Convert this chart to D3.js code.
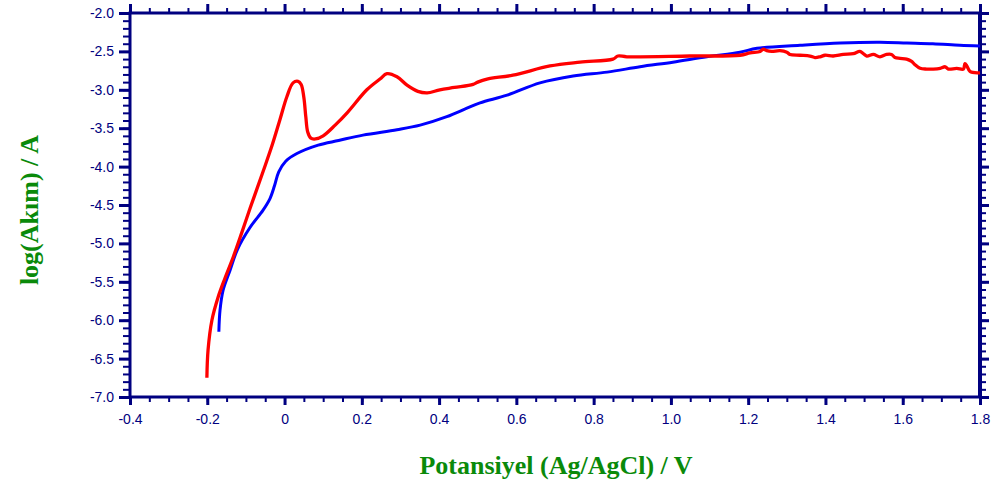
<!DOCTYPE html>
<html><head><meta charset="utf-8">
<script src="https://cdn.jsdelivr.net/npm/d3@7"></script>
<style>
html,body{margin:0;padding:0;background:#fff;}
svg{display:block;}
</style></head>
<body>
<svg id="chart" width="1003" height="486"></svg>
<script>
// ---- data ----
const redX = [-0.201,-0.198,-0.188,-0.172,-0.154,-0.133,-0.110,-0.089,-0.056,-0.032,-0.012,0.006,0.022,0.035,0.043,0.050,0.055,0.060,0.068,0.080,0.100,0.131,0.162,0.213,0.247,0.265,0.291,0.317,0.345,0.369,0.402,0.440,0.488,0.500,0.524,0.591,0.687,0.765,0.850,0.863,0.886,1.049,1.179,1.205,1.231,1.239,1.248,1.261,1.282,1.300,1.308,1.334,1.360,1.373,1.386,1.399,1.420,1.446,1.472,1.489,1.498,1.507,1.524,1.541,1.558,1.571,1.580,1.593,1.610,1.623,1.631,1.645,1.662,1.679,1.697,1.710,1.718,1.740,1.757,1.761,1.766,1.774,1.796,1.800];
const redY = [-6.75,-6.39,-6.00,-5.70,-5.45,-5.18,-4.85,-4.54,-4.07,-3.72,-3.39,-3.09,-2.91,-2.89,-2.93,-3.10,-3.35,-3.55,-3.63,-3.64,-3.60,-3.46,-3.30,-3.00,-2.86,-2.79,-2.83,-2.94,-3.02,-3.04,-3.00,-2.97,-2.93,-2.90,-2.86,-2.81,-2.69,-2.64,-2.60,-2.56,-2.57,-2.56,-2.55,-2.52,-2.50,-2.47,-2.49,-2.50,-2.49,-2.51,-2.54,-2.55,-2.56,-2.58,-2.57,-2.55,-2.56,-2.54,-2.53,-2.50,-2.53,-2.56,-2.54,-2.57,-2.54,-2.54,-2.58,-2.59,-2.60,-2.63,-2.67,-2.72,-2.73,-2.73,-2.72,-2.70,-2.73,-2.72,-2.73,-2.66,-2.69,-2.76,-2.78,-2.78];
const blueX = [-0.170,-0.167,-0.159,-0.141,-0.122,-0.089,-0.056,-0.038,-0.026,-0.015,0.003,0.032,0.087,0.140,0.203,0.291,0.351,0.420,0.472,0.506,0.576,0.661,0.747,0.835,0.920,1.005,1.093,1.179,1.223,1.334,1.438,1.541,1.611,1.678,1.748,1.800];
const blueY = [-6.15,-5.87,-5.61,-5.35,-5.08,-4.79,-4.57,-4.42,-4.25,-4.07,-3.93,-3.83,-3.72,-3.66,-3.59,-3.52,-3.46,-3.35,-3.24,-3.17,-3.07,-2.91,-2.82,-2.77,-2.70,-2.64,-2.57,-2.51,-2.46,-2.42,-2.39,-2.38,-2.39,-2.40,-2.42,-2.43];
const xTickValues = [-0.4,-0.2,0,0.2,0.4,0.6,0.8,1.0,1.2,1.4,1.6,1.8];
const xTickLabels = ["-0.4","-0.2","0","0.2","0.4","0.6","0.8","1.0","1.2","1.4","1.6","1.8"];
const yTickValues = [-7.0,-6.5,-6.0,-5.5,-5.0,-4.5,-4.0,-3.5,-3.0,-2.5,-2.0];
const yTickLabels = ["-7.0","-6.5","-6.0","-5.5","-5.0","-4.5","-4.0","-3.5","-3.0","-2.5","-2.0"];
const xTitle = "Potansiyel (Ag/AgCl) / V";
const yTitle = "log(Akım) / A";

// ---- layout ----
const L = 130, R = 980, T = 13, B = 397;
const navy = "#000080", green = "#0a8a0a";
const svg = d3.select("#chart");
const x = d3.scaleLinear().domain([-0.4, 1.8]).range([L, R]);
const y = d3.scaleLinear().domain([-7.0, -2.0]).range([B, T]);

const xMinor = d3.range(0, 45).map(i => +(-0.4 + i*0.05).toFixed(3));
const yMinor = d3.range(0, 51).map(i => +(-7.0 + i*0.1).toFixed(3));

function styleAxis(g, w){
  g.select(".domain").remove();
  g.selectAll("line").attr("stroke", navy).attr("stroke-width", w);
}
const tickFont = "'Liberation Sans', Arial, sans-serif";

// bottom
svg.append("g").attr("transform",`translate(0,${B})`)
  .call(d3.axisBottom(x).tickValues(xMinor).tickSize(5).tickFormat(""))
  .call(g=>styleAxis(g,2));
svg.append("g").attr("transform",`translate(0,${B})`)
  .call(d3.axisBottom(x).tickValues(xTickValues).tickSize(8).tickPadding(9)
    .tickFormat((d,i)=>xTickLabels[i]))
  .call(g=>styleAxis(g,3))
  .call(g=>g.selectAll("text").attr("fill",navy).style("font-family",tickFont).style("font-size","14px"));
// top
svg.append("g").attr("transform",`translate(0,${T})`)
  .call(d3.axisTop(x).tickValues(xMinor).tickSize(5).tickFormat(""))
  .call(g=>styleAxis(g,2));
svg.append("g").attr("transform",`translate(0,${T})`)
  .call(d3.axisTop(x).tickValues(xTickValues).tickSize(9).tickFormat(""))
  .call(g=>styleAxis(g,3));
// left
svg.append("g").attr("transform",`translate(${L},0)`)
  .call(d3.axisLeft(y).tickValues(yMinor).tickSize(7).tickFormat(""))
  .call(g=>styleAxis(g,2));
svg.append("g").attr("transform",`translate(${L},0)`)
  .call(d3.axisLeft(y).tickValues(yTickValues).tickSize(11).tickPadding(5)
    .tickFormat((d,i)=>yTickLabels[i]))
  .call(g=>styleAxis(g,3))
  .call(g=>g.selectAll("text").attr("fill",navy).style("font-family",tickFont).style("font-size","14px"));
// right
svg.append("g").attr("transform",`translate(${R},0)`)
  .call(d3.axisRight(y).tickValues(yMinor).tickSize(6).tickFormat(""))
  .call(g=>styleAxis(g,2));
svg.append("g").attr("transform",`translate(${R},0)`)
  .call(d3.axisRight(y).tickValues(yTickValues).tickSize(9).tickFormat(""))
  .call(g=>styleAxis(g,3));

// frame
svg.append("rect").attr("x",L).attr("y",T).attr("width",R-L).attr("height",B-T)
  .attr("fill","none").attr("stroke",navy).attr("stroke-width",3);
svg.append("line").attr("x1",R).attr("x2",R).attr("y1",T-1).attr("y2",B+1)
  .attr("stroke",navy).attr("stroke-width",4);

// clip
svg.append("clipPath").attr("id","clip").append("rect")
  .attr("x",L).attr("y",T).attr("width",R-L).attr("height",B-T);

const line = d3.line().x(d=>x(d[0])).y(d=>y(d[1])).curve(d3.curveCatmullRom.alpha(0.5));
const plot = svg.append("g").attr("clip-path","url(#clip)");
plot.append("path").datum(blueX.map((v,i)=>[v,blueY[i]]))
  .attr("d",line).attr("fill","none").attr("stroke","#0000ff").attr("stroke-width",3)
  .attr("stroke-linejoin","round");
plot.append("path").datum(redX.map((v,i)=>[v,redY[i]]))
  .attr("d",line).attr("fill","none").attr("stroke","#ff0000").attr("stroke-width",3.3)
  .attr("stroke-linejoin","round");

// titles
svg.append("text").attr("x",556).attr("y",474).attr("text-anchor","middle")
  .attr("fill",green).style("font-family","'Liberation Serif','Times New Roman',serif")
  .style("font-weight","bold").style("font-size","26px").text(xTitle);
svg.append("text").attr("transform","translate(38,210) rotate(-90)").attr("text-anchor","middle")
  .attr("fill",green).style("font-family","'Liberation Serif','Times New Roman',serif")
  .style("font-weight","bold").style("font-size","26px").text(yTitle);
</script>
</body></html>
